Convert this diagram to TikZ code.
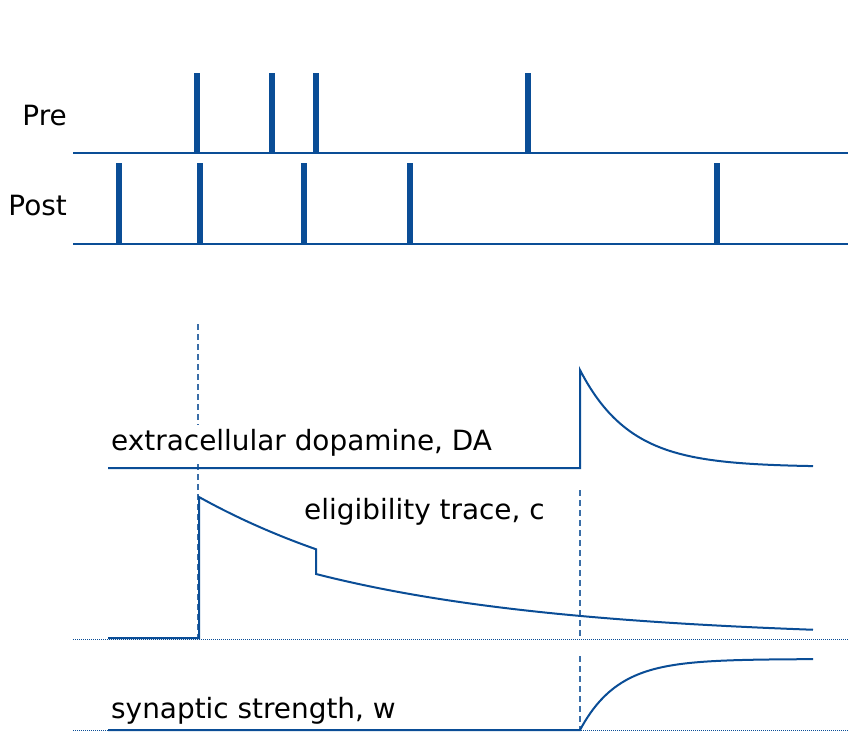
\documentclass[tikz,border=0pt]{standalone}
\usepackage{fontspec}
\setmainfont{DejaVu Sans}
\definecolor{tr}{HTML}{0A4D96}
\definecolor{dsh}{HTML}{3A6EA8}
\tikzset{
  baseln/.style={draw=tr, line width=2pt},
  spike/.style={draw=tr, line width=5.5pt},
  curve/.style={draw=tr, line width=2pt, line join=miter},
  guide/.style={draw=dsh, line width=1.5pt, dash pattern=on 6pt off 4pt},
  zeroln/.style={draw=tr, line width=1pt, dash pattern=on 1.2pt off 0.8pt},
  lbl/.style={inner sep=0pt, font=\fontsize{27.9}{32}\selectfont, text=black},
}
\begin{document}
\begin{tikzpicture}[x=1pt,y=-1pt]
\useasboundingbox (0,0) rectangle (857,740);
% spike trains
\coordinate (preA) at (73,153); \coordinate (preB) at (848,153);
\coordinate (postA) at (73,244); \coordinate (postB) at (848,244);
\draw[baseln] (preA) -- (preB);
\draw[baseln] (postA) -- (postB);
\foreach \x in {197,272,316,528} \draw[spike] (\x,73) -- (\x,153);
\foreach \x in {119,200,304,410,717} \draw[spike] (\x,163) -- (\x,244);
\node[lbl, anchor=base east] (pre) at (67,125) {Pre};
\node[lbl, anchor=base east] (post) at (67,215) {Post};
% guide lines
\coordinate (g1a) at (198,324); \coordinate (g1b) at (198,639);
\coordinate (g2a) at (580,490); \coordinate (g2b) at (580,639);
\coordinate (g3a) at (580,656); \coordinate (g3b) at (580,730);
\draw[guide] (g1a) -- (g1b);
\draw[guide] (g2a) -- (g2b);
\draw[guide] (g3a) -- (g3b);
% zero lines
\coordinate (z1a) at (73,639); \coordinate (z1b) at (848,639);
\coordinate (z2a) at (73,730); \coordinate (z2b) at (848,730);
\draw[zeroln] (z1a) -- (z1b);
\draw[zeroln] (z2a) -- (z2b);
% labels
\node[lbl, anchor=base west, fill=white, inner ysep=4pt] (da) at (111,450) {extracellular dopamine, DA};
\node[lbl, anchor=base west] (el) at (304,519.5) {eligibility trace, c};
\node[lbl, anchor=base west] (sw) at (111,718) {synaptic strength, w};
% dopamine
\draw[curve] (108,468) -- (580,468) -- (580,370)
  -- plot[domain=580:813, samples=90] (\x, {467-97*exp(-(\x-580)/50)});
% eligibility trace
\draw[curve] (108,638) -- (199,638) -- (199,497)
  -- plot[domain=199:316, samples=40] (\x, {639-142*exp(-(\x-199)/255)})
  -- (316,574)
  -- plot[domain=316:813, samples=90] (\x, {639-65*exp(-(\x-316)/255)});
% synaptic strength
\draw[curve] (108,730) -- (580,730)
  -- plot[domain=580:813, samples=90] (\x, {659+71*exp(-(\x-580)/38)});
\end{tikzpicture}
\end{document}
